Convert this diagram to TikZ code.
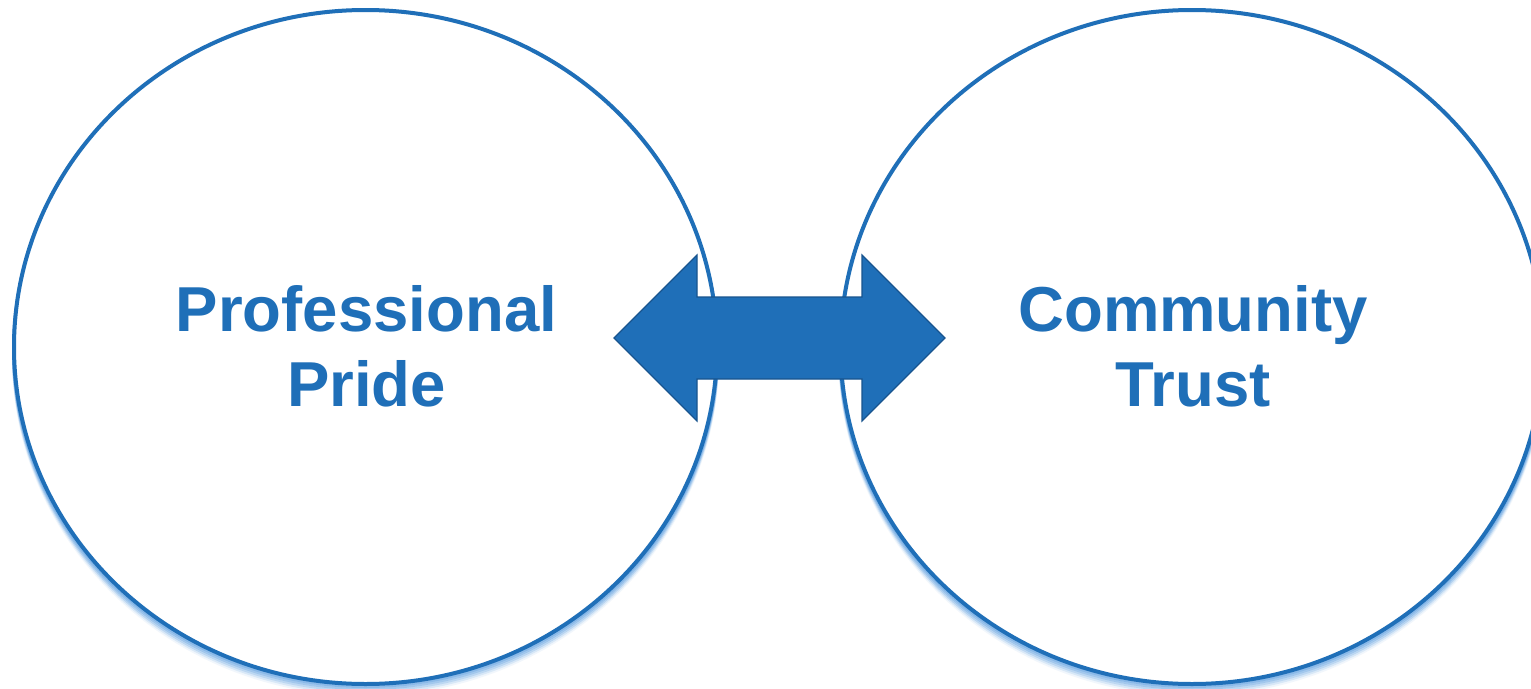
\documentclass[tikz,border=0pt]{standalone}
\usepackage{fontspec}
\setmainfont{Liberation Sans}
\usetikzlibrary{shapes.geometric}
\definecolor{mainblue}{RGB}{31,111,184}
\definecolor{darkblue}{RGB}{24,84,142}
\definecolor{glowblue}{RGB}{120,175,230}
\tikzset{
  circ/.style={ellipse, draw=mainblue, line width=4pt, fill=white, minimum width=703pt, minimum height=674pt, inner sep=0pt},
  glow/.style={ellipse, draw=glowblue, minimum width=703pt, minimum height=674pt, inner sep=0pt},
  lbl/.style={font=\fontsize{63.5}{75}\selectfont\bfseries, text=mainblue, align=center}
}
\begin{document}
\begin{tikzpicture}[x=1pt,y=-1pt]
\useasboundingbox (0,0) rectangle (1531,688);
\clip (0,0) rectangle (1531,688);
\fill[white] (0,0) rectangle (1531,688);
% soft glows below
\foreach \d/\o in {2/0.7,4/0.5,6/0.35,8/0.2,10/0.1}{
  \node[glow, line width=4pt, draw opacity=\o] at (365.5,347+\d) {};
  \node[glow, line width=4pt, draw opacity=\o] at (1192,347+\d) {};
}
\node[circ] (L) at (365.5,347) {};
\node[circ] (R) at (1192,347) {};
\node[lbl] (tl) at (366.5,346) {Professional\\Pride};
\node[lbl] (tr) at (1193,346) {Community\\Trust};
% double block arrow
\draw[fill=mainblue, draw=darkblue, line width=1.2pt, line join=miter]
  (614,338) -- (697,255) -- (697,297) -- (862,297) -- (862,255) -- (945,338)
  -- (862,421) -- (862,379) -- (697,379) -- (697,421) -- cycle;
\end{tikzpicture}
\end{document}
